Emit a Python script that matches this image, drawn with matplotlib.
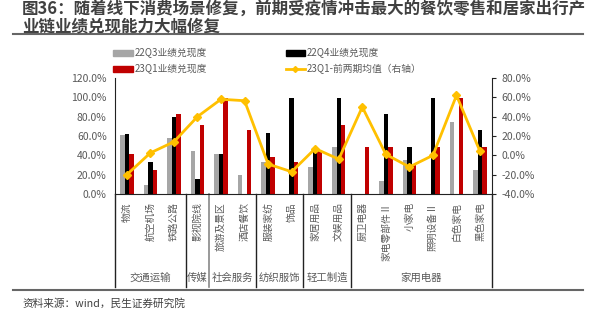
import matplotlib
matplotlib.use('Agg')
import matplotlib.pyplot as plt
from matplotlib.lines import Line2D
from matplotlib.patches import Patch
import numpy as np

plt.rcParams['font.family'] = ['Noto Sans CJK SC', 'DejaVu Sans']

cats = ['物流', '航空机场', '铁路公路', '影视院线', '旅游及景区', '酒店餐饮', '服装家纺', '饰品',
        '家居用品', '文娱用品', '厨卫电器', '家电零部件Ⅱ', '小家电', '照明设备Ⅱ', '白色家电', '黑色家电']
groups = ['交通运输', '传媒', '社会服务', '纺织服饰', '轻工制造', '家用电器']
group_sizes = [3, 1, 2, 2, 2, 6]

# 业绩兑现度 (%)
q3_22 = [61, 9, 58, 44, 41, 20, 33, 0, 28, 49, 0, 13.5, 35, 0, 74, 25]
q4_22 = [62, 33, 80, 16, 41, 0, 63, 99, 47, 99, 0, 83, 49, 99, 0, 66]
q1_23 = [41, 25, 83, 71, 99, 66, 38, 33, 44, 71, 49, 49, 30, 49, 99, 49]
# 23Q1-前两期均值 (%, 右轴)
diff = [-20, 2.5, 14, 40, 58, 56.5, -9, -17, 7, -4, 50, 1, -12, 0, 62, 4]

c_gray, c_black, c_red, c_yel = '#A6A6A6', '#000000', '#C00000', '#FFC000'
tc = '#595959'

fig = plt.figure(figsize=(6, 3.22), dpi=100, facecolor='white')
ax = fig.add_axes([0.1917, 0.3975, 0.628, 0.3603])
x = np.arange(len(cats))
w = 0.19
ax.bar(x - w, q3_22, w, color=c_gray)
ax.bar(x, q4_22, w, color=c_black)
ax.bar(x + w, q1_23, w, color=c_red)
ax.set_xlim(-0.5, len(cats) - 0.5)
ax.set_ylim(0, 120)
ax.set_yticks(np.arange(0, 121, 20))
ax.set_yticklabels([f'{v:.1f}%' for v in np.arange(0, 121, 20)], fontsize=7.5, color=tc)
ax.tick_params(axis='y', length=0, pad=6)
ax.set_xticks([])
for s in ['top', 'right']:
    ax.spines[s].set_visible(False)
ax.spines['left'].set_color('#222222')
ax.spines['bottom'].set_color('#222222')

ax2 = ax.twinx()
ax2.plot(x, diff, color=c_yel, lw=2, marker='D', ms=4, zorder=5)
ax2.set_ylim(-40, 80)
ax2.set_yticks(np.arange(-40, 81, 20))
ax2.set_yticklabels([f'{v:.1f}%' for v in np.arange(-40, 81, 20)], fontsize=7.5, color=tc)
ax2.tick_params(axis='y', length=3, pad=4, color='#222222')
for s in ['top', 'left', 'bottom']:
    ax2.spines[s].set_visible(False)
ax2.spines['right'].set_color('#222222')

# category labels
tr = ax.get_xaxis_transform()
for i, c in enumerate(cats):
    ax.text(i, -0.07, c, rotation=90, ha='center', va='top', fontsize=7,
            color=tc, transform=tr)

# group separators and labels
edges = np.concatenate([[0], np.cumsum(group_sizes)]) - 0.5
for i, e in enumerate(edges):
    col = '#888888' if i == 2 else '#222222'
    ax.plot([e, e], [0, -0.8], color=col, lw=1.2 if i == 2 else 1,
            transform=tr, clip_on=False)
for g, a, b in zip(groups, edges[:-1], edges[1:]):
    ax.text((a + b) / 2, -0.725, g, ha='center', va='center', fontsize=7.5,
            color=tc, transform=tr)

# legend
handles = [Patch(color=c_gray), Patch(color=c_red), Patch(color=c_black),
           Line2D([], [], color=c_yel, lw=2, marker='D', ms=3)]
labels = ['22Q3业绩兑现度', '23Q1业绩兑现度', '22Q4业绩兑现度', '23Q1-前两期均值（右轴）']
fig.legend(handles, labels, ncol=2, loc='upper left', bbox_to_anchor=(0.182, 0.862),
           frameon=False, fontsize=7, labelcolor=tc, handlelength=2.0, handleheight=0.7,
           handletextpad=0.2, columnspacing=8.1, labelspacing=0.6, borderaxespad=0)

# title
fig.text(0.037, 1.0, '图36：随着线下消费场景修复，前期受疫情冲击最大的餐饮零售和居家出行产\n业链业绩兑现能力大幅修复',
         fontsize=11.9, fontweight='bold', color='#404040', va='top', ha='left', linespacing=0.95)
fig.add_artist(Line2D([0.022, 0.972], [0.893, 0.893], color='#666666', lw=1.5))
fig.add_artist(Line2D([0.022, 0.972], [0.099, 0.099], color='#666666', lw=1.5))
fig.text(0.037, 0.058, '资料来源：wind，民生证券研究院', fontsize=7.7, color='#404040',
         va='center', ha='left')

fig.savefig('out.png', dpi=100, facecolor='white')
